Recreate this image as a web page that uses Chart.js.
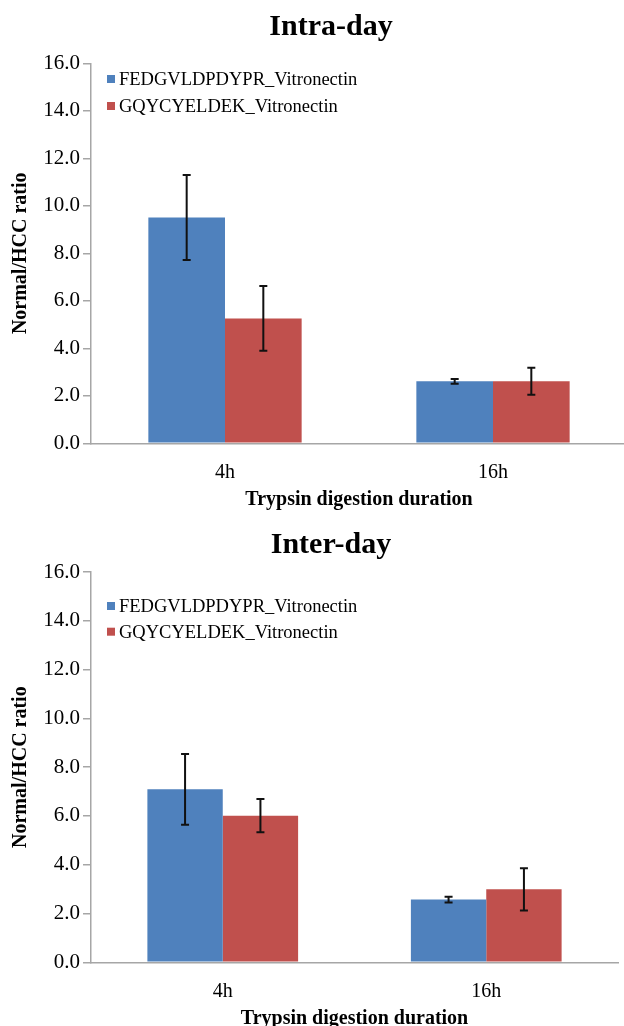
<!DOCTYPE html>
<html>
<head>
<meta charset="utf-8">
<script src="https://cdn.jsdelivr.net/npm/chart.js@4.4.1/dist/chart.umd.min.js"></script>
<style>
  html, body { margin: 0; padding: 0; background: #fff; }
  body { width: 624px; height: 1026px; overflow: hidden; position: relative; }
  .panel { position: absolute; left: 0; }
  #intraWrap { top: 0; }
  #interWrap { top: 515px; }
</style>
</head>
<body>
<div class="panel" id="intraWrap"><canvas id="intraChart" width="627" height="515"></canvas></div>
<div class="panel" id="interWrap"><canvas id="interChart" width="624" height="520"></canvas></div>
<script>
// Digestion durations on the x axis
const categories = ['4h', '16h'];
const seriesNames = ['FEDGVLDPDYPR_Vitronectin', 'GQYCYELDEK_Vitronectin'];
const yTicks = [0, 2, 4, 6, 8, 10, 12, 14, 16];

// Intra-day Normal/HCC ratios (mean and error)
const intraFedg = [9.51, 2.61];
const intraFedgErr = [1.79, 0.10];
const intraGqyc = [5.26, 2.61];
const intraGqycErr = [1.36, 0.57];

// Inter-day Normal/HCC ratios (mean and error)
const interFedg = [7.09, 2.57];
const interFedgErr = [1.45, 0.12];
const interGqyc = [6.01, 2.99];
const interGqycErr = [0.68, 0.87];

const BLUE = '#4F81BD';
const RED = '#C0504D';
const AXIS_GRAY = '#A6A6A6';
const SERIF = '"Liberation Serif", "Times New Roman", serif';

// Vertical error bars drawn on top of each bar
const errorBarPlugin = {
  id: 'errorBars',
  afterDatasetsDraw(chart) {
    const ctx = chart.ctx;
    const y = chart.scales.y;
    chart.data.datasets.forEach((ds, i) => {
      const meta = chart.getDatasetMeta(i);
      if (!ds.errors) return;
      meta.data.forEach((bar, j) => {
        const v = ds.data[j], e = ds.errors[j];
        const top = y.getPixelForValue(v + e);
        const bot = y.getPixelForValue(v - e);
        const cap = 4;
        ctx.save();
        ctx.strokeStyle = '#111';
        ctx.lineWidth = 2;
        ctx.beginPath();
        ctx.moveTo(bar.x, top); ctx.lineTo(bar.x, bot);
        ctx.moveTo(bar.x - cap, top); ctx.lineTo(bar.x + cap, top);
        ctx.moveTo(bar.x - cap, bot); ctx.lineTo(bar.x + cap, bot);
        ctx.stroke();
        ctx.restore();
      });
    });
  }
};

// Legend with small squares placed inside the plot area
const insideLegendPlugin = {
  id: 'insideLegend',
  afterDraw(chart, args, opts) {
    const ctx = chart.ctx;
    const left = chart.chartArea.left;
    ctx.save();
    ctx.font = '18.5px ' + SERIF;
    ctx.textBaseline = 'middle';
    ctx.textAlign = 'left';
    chart.data.datasets.forEach((ds, i) => {
      const cy = opts.rows[i];
      ctx.fillStyle = ds.backgroundColor;
      ctx.fillRect(left + opts.boxX, cy - 4, 8, 8);
      ctx.fillStyle = '#000';
      ctx.fillText(ds.label, left + opts.textX, cy + 1);
    });
    ctx.restore();
  }
};

function makeChart(canvasId, titleText, a, aErr, b, bErr, L) {
  return new Chart(document.getElementById(canvasId), {
    type: 'bar',
    data: {
      labels: categories,
      datasets: [
        { label: seriesNames[0], data: a, errors: aErr, backgroundColor: BLUE,
          categoryPercentage: 0.572, barPercentage: 1.0 },
        { label: seriesNames[1], data: b, errors: bErr, backgroundColor: RED,
          categoryPercentage: 0.572, barPercentage: 1.0 }
      ]
    },
    options: {
      responsive: false,
      animation: false,
      layout: { padding: { left: L.padL, right: L.padR, top: 0, bottom: 0 } },
      plugins: {
        legend: { display: false },
        tooltip: { enabled: false },
        title: {
          display: true,
          text: titleText,
          color: '#000',
          font: { family: SERIF, size: 30, weight: 'bold' },
          padding: { top: L.titleTop, bottom: L.titleBottom }
        },
        insideLegend: { rows: L.legendRows, boxX: 16, textX: 28 }
      },
      scales: {
        x: {
          grid: { display: false, drawTicks: false },
          border: { display: true, color: AXIS_GRAY, width: 1.5 },
          ticks: { color: '#000', font: { family: SERIF, size: 20 }, padding: 17 },
          title: {
            display: true,
            text: 'Trypsin digestion duration',
            color: '#000',
            font: { family: SERIF, size: 20, weight: 'bold' },
            padding: { top: 0, bottom: L.xTitleBottom }
          },
          afterFit(scale) { scale.height = L.xHeight; }
        },
        y: {
          min: 0,
          max: 16,
          afterBuildTicks(scale) { scale.ticks = yTicks.map(v => ({ value: v })); },
          grid: { display: true, drawOnChartArea: false, drawTicks: true, tickLength: 8,
                  color: AXIS_GRAY, lineWidth: 1.5 },
          border: { display: true, color: AXIS_GRAY, width: 1.5 },
          ticks: {
            color: '#000',
            font: { family: SERIF, size: 21 },
            padding: 3,
            callback: v => Number(v).toFixed(1)
          },
          title: {
            display: true,
            text: 'Normal/HCC ratio',
            color: '#000',
            font: { family: SERIF, size: 20, weight: 'bold' },
            padding: { top: L.yTitleTop, bottom: 0 }
          },
          afterFit(scale) { scale.width = 91 - L.padL; }
        }
      }
    },
    plugins: [errorBarPlugin, insideLegendPlugin]
  });
}

makeChart('intraChart', 'Intra-day', intraFedg, intraFedgErr, intraGqyc, intraGqycErr, {
  padL: 35, padR: 0, titleTop: 9, titleBottom: 18.3, xHeight: 71.7, xTitleBottom: 3.5,
  yTitleTop: -26, legendRows: [79, 106]
});

makeChart('interChart', 'Inter-day', interFedg, interFedgErr, interGqyc, interGqycErr, {
  padL: 44, padR: 6, titleTop: 12, titleBottom: 9, xHeight: 72.7, xTitleBottom: 4.5,
  yTitleTop: -35, legendRows: [91, 116.7]
});
</script>
</body>
</html>
